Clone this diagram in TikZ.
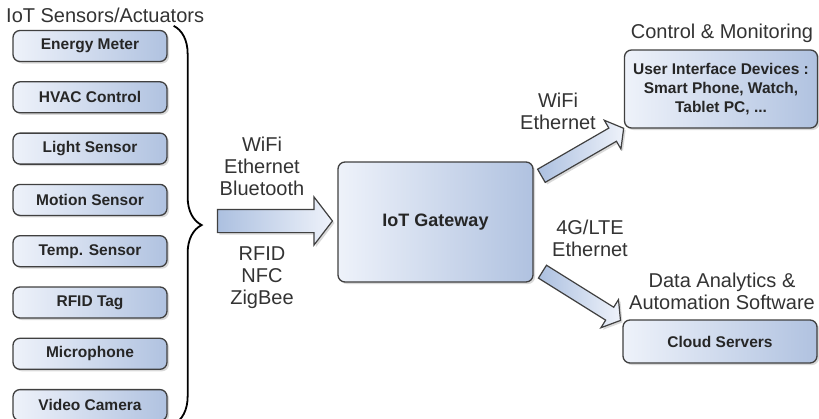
\documentclass[tikz,border=0pt]{standalone}
\usepackage{fontspec}
\setmainfont{Liberation Sans}
\usetikzlibrary{positioning,shapes.arrows,shadows,decorations.pathreplacing,calc}

\definecolor{boxlight}{RGB}{238,242,250}
\definecolor{boxdark}{RGB}{176,194,224}
\definecolor{arrdark}{RGB}{172,192,224}
\definecolor{boxline}{RGB}{64,64,64}
\definecolor{lbltext}{RGB}{51,51,51}

\begin{document}
\begin{tikzpicture}[
    x=1pt, y=1pt,
    node distance=19pt,
    sensor/.style={draw=boxline, line width=1.3pt, rounded corners=7pt,
                left color=boxlight, right color=boxdark,
                drop shadow={shadow xshift=2pt, shadow yshift=-2pt, opacity=0.3},
                minimum width=154pt, minimum height=31pt, inner sep=0pt,
                text=black!85, font=\fontsize{15.5}{19}\selectfont\bfseries},
    bigbox/.style={sensor, align=center},
    lbl/.style={text=lbltext, align=center, inner sep=0pt,
                font=\fontsize{20}{22}\selectfont},
    blockarr/.style={shape=single arrow, draw=boxline, line width=1.2pt,
                left color=arrdark, right color=boxlight,
                drop shadow={shadow xshift=2pt, shadow yshift=-2pt, opacity=0.3},
                inner xsep=0pt, single arrow tip angle=105},
    brc/.style={decorate, decoration={brace, amplitude=28pt}, line width=1.8pt}
]
\useasboundingbox (0,0) rectangle (819,-418);

% sensors / actuators
\node[lbl, anchor=west] (sensTitle) at (6,-15) {IoT Sensors/Actuators};
\node[sensor] (s1) at (90,-46) {Energy Meter};
\node[sensor, below=of s1] (s2) {HVAC Control};
\node[sensor, below=of s2] (s3) {Light Sensor};
\node[sensor, below=of s3] (s4) {Motion Sensor};
\node[sensor, below=of s4] (s5) {Temp. Sensor};
\node[sensor, below=of s5] (s6) {RFID Tag};
\node[sensor, below=of s6] (s7) {Microphone};
\node[sensor, below=of s7] (s8) {Video Camera};

\coordinate (brTop) at ($(s1.north east)+(6,4)$);
\coordinate (brBot) at ($(s8.south east)+(6,-3)$);
\draw[brc] (brTop) -- (brBot);

% gateway
\node[bigbox, minimum width=195pt, minimum height=120pt,
      font=\fontsize{18}{20}\selectfont\bfseries] (gw) at (435.5,-222) {IoT Gateway};
\node[blockarr, minimum height=115pt, inner ysep=11pt,
      single arrow head extend=12.5pt] (inArr) at (270.5,-221) {};
\node[lbl] (inTop) at (262,-166) {WiFi\\Ethernet\\Bluetooth};
\node[lbl] (inBot) at (262,-278) {RFID\\NFC\\ZigBee};

% control & monitoring
\node[lbl] (ctrlTitle) at (722,-33) {Control \& Monitoring};
\node[bigbox, minimum width=193pt, minimum height=78pt] (ui) at (721,-89)
     {User Interface Devices :\\Smart Phone, Watch,\\Tablet PC, ...};
\node[blockarr, minimum height=95pt, inner ysep=7pt,
      single arrow head extend=9pt, rotate=30] (upArr) at (580,-153.5) {};
\node[lbl] (upLbl) at (558,-111.5) {WiFi\\Ethernet};

% cloud
\node[lbl] (cloudTitle) at (722,-291) {Data Analytics \&\\Automation Software};
\node[bigbox, minimum width=194pt, minimum height=43pt] (cloud) at (720,-341.5) {Cloud Servers};
\node[blockarr, minimum height=92pt, inner ysep=7pt,
      single arrow head extend=9pt, rotate=-32] (dnArr) at (579,-294.5) {};
\node[lbl] (dnLbl) at (590,-238.5) {4G/LTE\\Ethernet};
\end{tikzpicture}
\end{document}
